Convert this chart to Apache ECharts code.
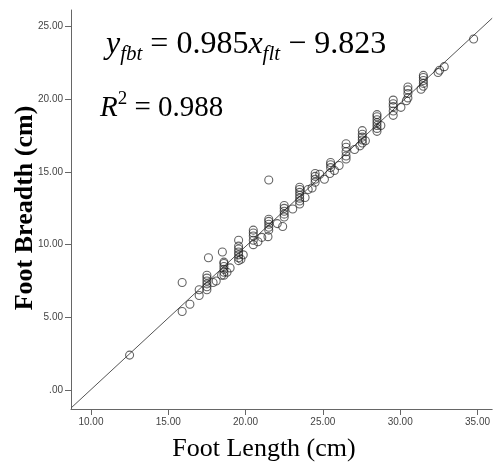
<!DOCTYPE html>
<html>
<head>
<meta charset="utf-8">
<script src="https://cdn.jsdelivr.net/npm/echarts@6/dist/echarts.min.js"></script>
<style>html,body{margin:0;padding:0;background:#fff}#c{width:493px;height:464px}</style>
</head>
<body>
<div id="c"></div>
<script>
// Foot length (cm) values of the observations
const footLength = [
  12.5, 15.9, 15.9, 16.4, 17.0, 17.0, 17.6,
  17.5, 17.5, 17.5, 17.5, 17.5, 17.5, 17.9, 18.1, 18.5,
  18.6, 18.6, 18.6, 18.6, 18.6, 18.6, 18.45, 19.0, 18.8,
  19.55, 19.55, 19.55, 19.55, 19.55, 19.55, 19.55, 19.85, 19.7,
  20.5, 20.5, 20.5, 20.5, 20.5, 20.8, 21.05, 21.45, 21.5,
  21.5, 21.5, 21.5, 21.5, 21.5, 22.05, 22.4,
  22.5, 22.5, 22.5, 22.5, 22.5, 23.05,
  23.5, 23.5, 23.5, 23.5, 23.5, 23.5, 23.5, 23.85, 24.05, 24.3,
  24.5, 24.5, 24.5, 24.5, 24.8, 25.1, 25.45, 25.75,
  25.5, 25.5, 25.5, 26.05,
  26.5, 26.5, 26.5, 26.5, 26.5, 27.05, 27.4,
  27.55, 27.55, 27.55, 27.55, 27.55, 27.75,
  28.5, 28.5, 28.5, 28.5, 28.5, 28.5, 28.5, 28.75,
  29.55, 29.55, 29.55, 29.55, 29.55, 30.05, 30.4,
  30.5, 30.5, 30.5, 30.5, 31.35,
  31.5, 31.5, 31.5, 31.5, 31.5, 32.45, 32.55, 32.85, 34.75
];
// Foot breadth (cm) values, same order
const footBreadth = [
  2.4, 5.4, 7.4, 5.9, 6.5, 6.9, 9.1,
  6.9, 7.1, 7.3, 7.5, 7.7, 7.9, 7.4, 7.5, 9.5,
  7.9, 8.1, 8.3, 8.5, 8.7, 8.8, 7.9, 8.4, 8.1,
  8.9, 9.1, 9.3, 9.5, 9.7, 9.9, 10.3, 9.3, 9.0,
  10.0, 10.3, 10.6, 10.8, 11.0, 10.2, 10.5, 10.55, 14.45,
  11.0, 11.2, 11.4, 11.6, 11.75, 11.45, 11.25,
  11.9, 12.1, 12.3, 12.5, 12.7, 12.45,
  12.8, 13.0, 13.2, 13.4, 13.6, 13.8, 13.95, 13.25, 13.8, 13.9,
  14.3, 14.5, 14.7, 14.9, 14.85, 14.5, 14.9, 15.1,
  15.3, 15.5, 15.65, 15.45,
  15.9, 16.1, 16.4, 16.7, 16.95, 16.55, 16.8,
  17.0, 17.2, 17.4, 17.6, 17.85, 17.15,
  17.8, 18.0, 18.2, 18.4, 18.6, 18.8, 18.95, 18.2,
  18.9, 19.2, 19.5, 19.7, 19.95, 19.45, 19.9,
  20.1, 20.4, 20.65, 20.85, 20.7,
  20.9, 21.1, 21.3, 21.5, 21.65, 21.85, 22.0, 22.25, 24.15
];
// Tick labels
const xTicks = [10, 15, 20, 25, 30, 35];
const yTicks = [0, 5, 10, 15, 20, 25];
// Fitted regression line coefficients (from the annotation)
const slope = 0.985;
const intercept = -9.823;
const xRange = [8.71, 35.95];
const yRange = [-1.31, 26.15];

const points = footLength.map((x, i) => [x, footBreadth[i]]);
const fitLine = xRange.map(x => [x, slope * x + intercept]);

const fmt = v => (v === 0 ? '.00' : v.toFixed(2));

const chart = echarts.init(document.getElementById('c'), null, {renderer: 'canvas'});
const axisCommon = {
  type: 'value',
  splitLine: {show: false},
  axisLine: {show: true, onZero: false, lineStyle: {color: '#666', width: 1}},
  axisTick: {show: true, length: 6, lineStyle: {color: '#666', width: 1}},
  axisLabel: {color: '#444', fontSize: 10, fontFamily: 'Liberation Sans', formatter: fmt}
};
chart.setOption({
  animation: false,
  grid: {left: 71, top: 10, right: 0, bottom: 55},
  xAxis: Object.assign({}, axisCommon, {
    min: xRange[0], max: xRange[1],
    axisTick: Object.assign({}, axisCommon.axisTick, {customValues: xTicks}),
    axisLabel: Object.assign({}, axisCommon.axisLabel, {customValues: xTicks, margin: 8})
  }),
  yAxis: Object.assign({}, axisCommon, {
    min: yRange[0], max: yRange[1],
    axisTick: Object.assign({}, axisCommon.axisTick, {customValues: yTicks}),
    axisLabel: Object.assign({}, axisCommon.axisLabel, {customValues: yTicks, margin: 8})
  }),
  series: [
    {
      type: 'line', data: fitLine, symbol: 'none', silent: true,
      lineStyle: {color: '#555', width: 1}, z: 1
    },
    {
      type: 'scatter', data: points, symbol: 'circle', symbolSize: 8,
      itemStyle: {color: 'rgba(0,0,0,0)', borderColor: 'rgba(30,30,30,0.85)', borderWidth: 1.1},
      z: 2
    }
  ],
  graphic: [
    {
      type: 'text', left: 106, top: 29,
      style: {
        text: '{v|y}{s|fbt}{n| = 0.985}{v|x}{s|flt}{n| − 9.823}',
        rich: {
          v: {fontFamily: 'Liberation Serif', fontStyle: 'italic', fontSize: 32, lineHeight: 40, verticalAlign: 'middle', fill: '#000'},
          n: {fontFamily: 'Liberation Serif', fontSize: 32, lineHeight: 40, verticalAlign: 'middle', fill: '#000'},
          s: {fontFamily: 'Liberation Serif', fontStyle: 'italic', fontSize: 21, lineHeight: 20, verticalAlign: 'bottom', fill: '#000'}
        }
      }
    },
    {
      type: 'text', left: 100, top: 90,
      style: {
        text: '{v|R}{p|2}{n| = 0.988}',
        rich: {
          v: {fontFamily: 'Liberation Serif', fontStyle: 'italic', fontSize: 29, lineHeight: 36, verticalAlign: 'middle', fill: '#000'},
          n: {fontFamily: 'Liberation Serif', fontSize: 29, lineHeight: 36, verticalAlign: 'middle', fill: '#000'},
          p: {fontFamily: 'Liberation Serif', fontSize: 19, lineHeight: 22, verticalAlign: 'top', fill: '#000'}
        }
      }
    },
    {
      type: 'text', x: 264, y: 449,
      style: {text: 'Foot Length (cm)', fontFamily: 'Liberation Serif', fontSize: 26, align: 'center', verticalAlign: 'middle', fill: '#000'}
    },
    {
      type: 'text', x: 25, y: 208, rotation: Math.PI / 2,
      style: {text: 'Foot Breadth (cm)', fontFamily: 'Liberation Serif', fontWeight: 'bold', fontSize: 26, align: 'center', verticalAlign: 'middle', fill: '#000'}
    }
  ]
});
</script>
</body>
</html>
